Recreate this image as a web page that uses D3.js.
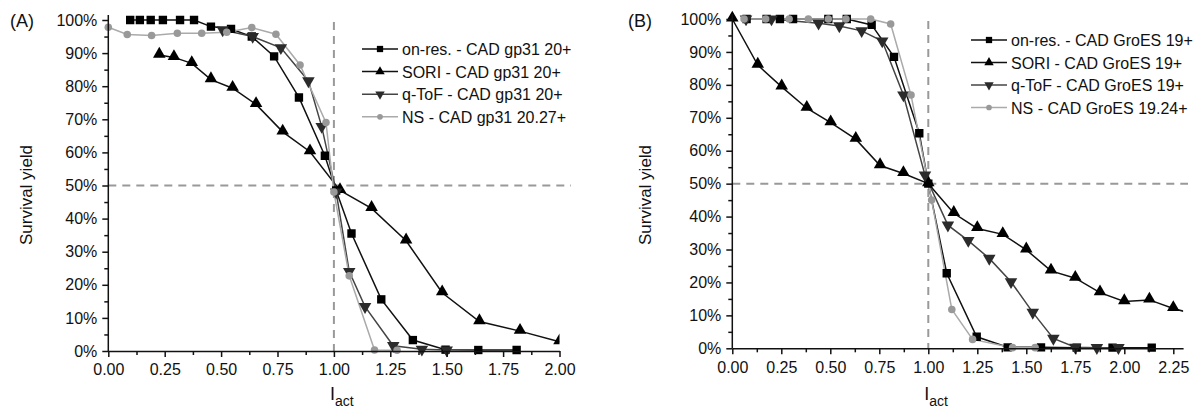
<!DOCTYPE html>
<html>
<head>
<meta charset="utf-8">
<script src="https://cdn.jsdelivr.net/npm/d3@7"></script>
<style>
  body { margin: 0; background: #fff; }
  svg { display: block; font-family: "Liberation Sans", Arial, sans-serif; }
</style>
</head>
<body>
<svg id="chart" width="1200" height="408"></svg>
<script>
// ---- data (I_act, survival %) ----
const yTicks = [0, 10, 20, 30, 40, 50, 60, 70, 80, 90, 100];

// panel A : gp31
const aOnRes = [[0.097,100],[0.14,100],[0.188,100],[0.242,100],[0.318,100],[0.38,100],[0.455,98],[0.544,97.3],[0.636,95],[0.735,89],[0.845,76.6],[0.96,59],[1.01,48.5],[1.078,35.5],[1.21,15.6],[1.35,3.3],[1.495,0.4],[1.64,0.3],[1.81,0.3]];
const aSori = [[0.226,89.4],[0.291,88.7],[0.37,86.9],[0.455,82],[0.551,79.4],[0.655,74.5],[0.773,66.2],[0.894,60.2],[1.027,48.5],[1.167,43.1],[1.32,33.3],[1.48,17.6],[1.645,8.9],[1.825,6],[2.0,2.8]];
const aQtof = [[0.507,97],[0.64,95],[0.765,91.6],[0.887,81.6],[0.946,67.8],[1.01,48],[1.068,24],[1.138,13.4],[1.263,1.6],[1.39,0.5],[1.5,0.3]];
const aNs = [[0,97.8],[0.084,95.6],[0.192,95.3],[0.306,96],[0.414,96],[0.525,96.3],[0.636,97.7],[0.743,95.7],[0.85,86.4],[0.965,69],[1.0,48],[1.068,22.7],[1.18,0.3],[1.28,0.2]];
const aLabels = ["on-res. - CAD gp31 20+", "SORI - CAD gp31 20+", "q-ToF - CAD gp31 20+", "NS - CAD gp31 20.27+"];
const aXTicks = [0, 0.25, 0.5, 0.75, 1, 1.25, 1.5, 1.75, 2];

// panel B : GroES
const bOnRes = [[0.073,100],[0.175,100],[0.243,100],[0.31,100],[0.49,100],[0.584,100],[0.711,98.2],[0.825,88.5],[0.954,65.3],[1.0,50],[1.094,22.8],[1.247,3.5],[1.405,0.3],[1.575,0.3],[1.757,0.2],[1.94,0.2],[2.14,0.2]];
const bSori = [[0,100],[0.13,86],[0.252,79.4],[0.38,72.9],[0.502,68.5],[0.63,63.5],[0.754,55.5],[0.873,53.1],[1.0,50],[1.13,41],[1.25,36.4],[1.38,34.6],[1.5,29.9],[1.626,23.5],[1.75,21.3],[1.876,16.9],[2.0,14.2],[2.128,14.7],[2.25,12.1],[2.38,10]];
const bQtof = [[0.07,100],[0.2,100],[0.44,98.7],[0.546,97.9],[0.66,96.4],[0.765,93.3],[0.873,76.9],[0.983,52.6],[1.1,37.4],[1.204,32.7],[1.311,27.3],[1.422,20.2],[1.533,10.9],[1.638,3],[1.75,0.3],[1.86,0.2],[1.97,0.2]];
const bNs = [[0.06,100],[0.17,100],[0.29,100],[0.388,100],[0.49,100],[0.58,100],[0.706,100],[0.808,98.5],[0.912,76.9],[1.017,45],[1.12,11.8],[1.226,2.7],[1.43,0.2],[1.545,0.2]];
const bLabels = ["on-res. - CAD GroES 19+", "SORI - CAD GroES 19+", "q-ToF - CAD GroES 19+", "NS - CAD GroES 19.24+"];
const bXTicks = [0, 0.25, 0.5, 0.75, 1, 1.25, 1.5, 1.75, 2, 2.25];

// series styles
const styles = [
  { shape: "square", line: "#111", fill: "#000" },
  { shape: "up", line: "#111", fill: "#000" },
  { shape: "down", line: "#444", fill: "#2b2b2b" },
  { shape: "circle", line: "#aaa", fill: "#999" }
];

const svg = d3.select("#chart");

function markerPath(shape) {
  if (shape === "square") return d3.symbol(d3.symbolSquare, 70)();
  if (shape === "circle") return d3.symbol(d3.symbolCircle, 45)();
  return d3.symbol(d3.symbolTriangle, 68)();
}

function drawMarker(g, shape, fill) {
  const p = g.append("path").attr("d", markerPath(shape)).attr("fill", fill);
  if (shape === "down") p.attr("transform", "rotate(180)");
  if (shape === "up") p.attr("transform", "translate(0,-1)");
  return p;
}

function drawPanel(opt) {
  const x = d3.scaleLinear().domain([0, opt.xMax]).range([opt.left, opt.left + opt.xMax * opt.pxPerUnit]);
  const y = d3.scaleLinear().domain([0, 100]).range([opt.bottom, opt.top]);
  const g = svg.append("g");

  // dashed reference lines
  g.append("line")
    .attr("x1", x(0)).attr("x2", opt.hEnd)
    .attr("y1", y(50)).attr("y2", y(50))
    .attr("stroke", "#999").attr("stroke-width", 2).attr("stroke-dasharray", "8,6");
  g.append("line")
    .attr("x1", x(1)).attr("x2", x(1))
    .attr("y1", opt.top + 2).attr("y2", y(0))
    .attr("stroke", "#999").attr("stroke-width", 2).attr("stroke-dasharray", "8,6");

  // series
  const clipId = "clip" + opt.name;
  svg.append("clipPath").attr("id", clipId)
    .append("rect").attr("x", x(0) - 10).attr("y", opt.top - 15)
    .attr("width", x(opt.xMax) - x(0) + 10).attr("height", opt.bottom - opt.top + 25);

  const line = d3.line().x(d => x(d[0])).y(d => y(d[1]));
  const sg = g.append("g").attr("clip-path", `url(#${clipId})`);
  opt.series.forEach((data, i) => {
    sg.append("path").datum(data)
      .attr("d", line).attr("fill", "none")
      .attr("stroke", styles[i].line).attr("stroke-width", 1.5);
  });
  opt.series.forEach((data, i) => {
    const st = styles[i];
    sg.selectAll(null).data(data).join("g")
      .attr("transform", d => `translate(${x(d[0])},${y(d[1])})`)
      .each(function () { drawMarker(d3.select(this), st.shape, st.fill); });
  });

  // axes
  const yAxis = g.append("g").attr("transform", `translate(${x(0)},0)`)
    .call(d3.axisLeft(y).tickValues(yTicks).tickFormat(d => d + "%").tickSize(6).tickSizeOuter(0).tickPadding(5));
  g.append("g").attr("transform", `translate(${x(0)},0)`)
    .call(d3.axisLeft(y).tickValues(d3.range(5, 100, 10)).tickFormat("").tickSize(4).tickSizeOuter(0))
    .select(".domain").remove();
  const xAxis = g.append("g").attr("transform", `translate(0,${y(0)})`)
    .call(d3.axisBottom(x).tickValues(opt.xTicks).tickFormat(d3.format(".2f")).tickSize(6).tickSizeOuter(0).tickPadding(7));
  g.append("g").attr("transform", `translate(0,${y(0)})`)
    .call(d3.axisBottom(x).tickValues(opt.xTicks.map(t => t + 0.125).filter(t => t < opt.xMax)).tickFormat("").tickSize(4).tickSizeOuter(0))
    .select(".domain").remove();
  yAxis.select(".domain").attr("d", `M0,${y(0)}V${opt.top - 5}`);
  [yAxis, xAxis].forEach(a => {
    a.selectAll("line, path").attr("stroke", "#111").attr("stroke-width", 1.5);
    a.selectAll("text").attr("font-size", 16).attr("fill", "#111")
      .attr("font-family", "'Liberation Sans', Arial, sans-serif");
  });
  g.selectAll(".tick line").attr("stroke", "#111").attr("stroke-width", 1.5);

  // axis titles
  g.append("text")
    .attr("transform", `translate(${opt.yLabelX},195) rotate(-90)`)
    .attr("text-anchor", "middle").attr("font-size", 17).attr("fill", "#111")
    .text("Survival yield");
  const xt = g.append("text").attr("x", x(1) - 4).attr("y", 400).attr("font-size", 18).attr("fill", "#111");
  xt.append("tspan").text("I");
  xt.append("tspan").attr("dy", 6).attr("font-size", 14).text("act");

  g.append("text").attr("x", opt.tagX).attr("y", 27).attr("font-size", 18).attr("fill", "#111").text(opt.tag);

  // legend
  const lg = g.append("g").attr("transform", `translate(${opt.legX},${opt.legY})`);
  opt.labels.forEach((lab, i) => {
    const st = styles[i];
    const row = lg.append("g").attr("transform", `translate(0,${i * opt.legStep})`);
    row.append("line").attr("x1", 0).attr("x2", 36).attr("stroke", st.line).attr("stroke-width", 1.5);
    const m = row.append("g").attr("transform", "translate(18,0)");
    drawMarker(m, st.shape, st.fill).attr("transform",
      st.shape === "down" ? "rotate(180) scale(0.75)" : "scale(0.75)");
    row.append("text").attr("x", 40).attr("y", 6).attr("font-size", 16).attr("fill", "#111").text(lab);
  });
}

drawPanel({
  name: "A", tag: "(A)", tagX: 10, left: 108.3, pxPerUnit: 225.6, xMax: 2.0,
  top: 20, bottom: 351, hEnd: 571, yLabelX: 32,
  xTicks: aXTicks, series: [aOnRes, aSori, aQtof, aNs], labels: aLabels,
  legX: 362, legY: 49, legStep: 22.6
});

drawPanel({
  name: "B", tag: "(B)", tagX: 628, left: 732.3, pxPerUnit: 196, xMax: 2.3,
  top: 19, bottom: 348.3, hEnd: 1188, yLabelX: 651,
  xTicks: bXTicks, series: [bOnRes, bSori, bQtof, bNs], labels: bLabels,
  legX: 971, legY: 40, legStep: 22.5
});
</script>
</body>
</html>
